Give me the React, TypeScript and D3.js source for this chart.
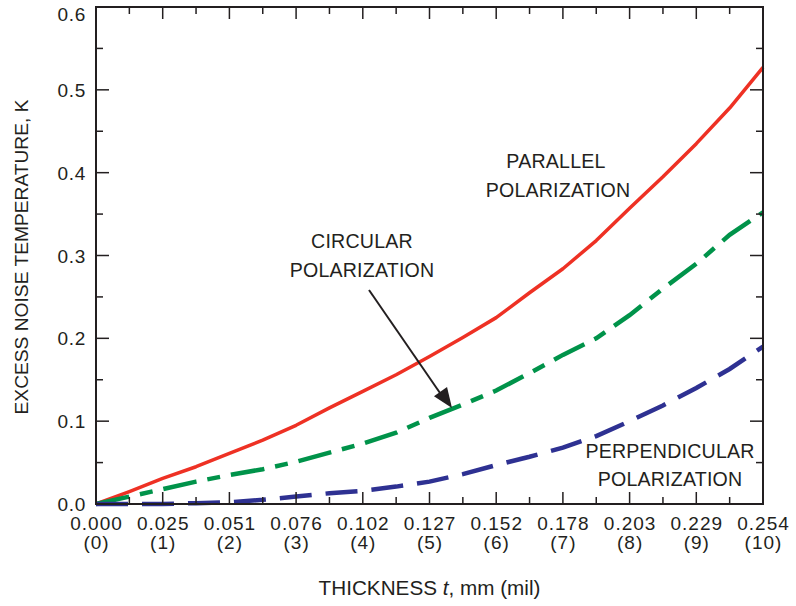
import React from "react";
import * as d3 from "d3";

const thicknessMil = [0, 0.5, 1, 1.5, 2, 2.5, 3, 3.5, 4, 4.5, 5, 5.5, 6, 6.5, 7, 7.5, 8, 8.5, 9, 9.5, 10];
const parallel = [0, 0.015, 0.031, 0.045, 0.061, 0.077, 0.095, 0.116, 0.136, 0.156, 0.178, 0.201, 0.225, 0.255, 0.284, 0.318, 0.357, 0.395, 0.435, 0.478, 0.527];
const circular = [0, 0.009, 0.018, 0.027, 0.035, 0.042, 0.051, 0.062, 0.073, 0.086, 0.104, 0.12, 0.137, 0.158, 0.18, 0.2, 0.228, 0.26, 0.29, 0.325, 0.352];
const perpendicular = [0, 0, 0, 0.001, 0.002, 0.005, 0.009, 0.013, 0.016, 0.021, 0.027, 0.036, 0.047, 0.057, 0.068, 0.082, 0.1, 0.119, 0.14, 0.163, 0.19];

const xTickMil = [0, 1, 2, 3, 4, 5, 6, 7, 8, 9, 10];
const xTickMm = ["0.000", "0.025", "0.051", "0.076", "0.102", "0.127", "0.152", "0.178", "0.203", "0.229", "0.254"];
const yTicks = [0, 0.1, 0.2, 0.3, 0.4, 0.5, 0.6];

const FONT = "'Liberation Sans', Arial, Helvetica, sans-serif";
const TEXT = "#231f20";

export default function App() {
  const W = 796, H = 606;
  const left = 96, right = 763, top = 7, bottom = 504;
  const x = d3.scaleLinear().domain([0, 10]).range([left, right]);
  const y = d3.scaleLinear().domain([0, 0.6]).range([bottom, top]);

  const mk = (vals: number[]) =>
    d3.line<number>().x((_, i) => x(thicknessMil[i])).y((v) => y(v))(vals) || "";

  const minorX = d3.range(0.5, 10, 1);
  const minorY = d3.range(0.05, 0.6, 0.1);

  const fs = 19;

  return (
    <svg width={W} height={H} style={{ position: "absolute", left: 0, top: 0 }} fontFamily={FONT}>
      <rect x={0} y={0} width={W} height={H} fill="#fff" />
      {/* series */}
      <path d={mk(parallel)} fill="none" stroke="#ee3124" strokeWidth={3.5} strokeLinejoin="round" />
      <path d={mk(circular)} fill="none" stroke="#00934a" strokeWidth={4.5} strokeDasharray="34,11,13,11" />
      <path d={mk(perpendicular)} fill="none" stroke="#2e3192" strokeWidth={4.5} strokeDasharray="32,14" />

      {/* frame */}
      <rect x={left} y={top} width={right - left} height={bottom - top} fill="none" stroke={TEXT} strokeWidth={2} />

      {/* x ticks */}
      {xTickMil.map((m) => (
        <g key={"xt" + m}>
          <line x1={x(m)} x2={x(m)} y1={bottom} y2={bottom - 12} stroke={TEXT} strokeWidth={1.5} />
          <line x1={x(m)} x2={x(m)} y1={top} y2={top + 12} stroke={TEXT} strokeWidth={1.5} />
        </g>
      ))}
      {minorX.map((m) => (
        <g key={"xm" + m}>
          <line x1={x(m)} x2={x(m)} y1={bottom} y2={bottom - 7} stroke={TEXT} strokeWidth={1.5} />
          <line x1={x(m)} x2={x(m)} y1={top} y2={top + 7} stroke={TEXT} strokeWidth={1.5} />
        </g>
      ))}
      {/* y ticks */}
      {yTicks.map((v) => (
        <g key={"yt" + v}>
          <line x1={left} x2={left + 13} y1={y(v)} y2={y(v)} stroke={TEXT} strokeWidth={1.5} />
          <line x1={right} x2={right - 13} y1={y(v)} y2={y(v)} stroke={TEXT} strokeWidth={1.5} />
        </g>
      ))}
      {minorY.map((v) => (
        <g key={"ym" + v}>
          <line x1={left} x2={left + 7} y1={y(v)} y2={y(v)} stroke={TEXT} strokeWidth={1.5} />
          <line x1={right} x2={right - 7} y1={y(v)} y2={y(v)} stroke={TEXT} strokeWidth={1.5} />
        </g>
      ))}

      {/* tick labels */}
      {xTickMil.map((m, i) => (
        <g key={"xl" + m} fill={TEXT} fontSize={fs} textAnchor="middle" letterSpacing={1}>
          <text x={x(m) + 0.5} y={530}>{xTickMm[i]}</text>
          <text x={x(m) + 0.5} y={549}>({m})</text>
        </g>
      ))}
      {yTicks.map((v) => (
        <text key={"yl" + v} x={86} y={Math.max(y(v), 14) + 7} fontSize={fs} fill={TEXT} textAnchor="end" letterSpacing={0.7}>
          {v.toFixed(1)}
        </text>
      ))}

      {/* axis titles */}
      <text x={(left + right) / 2} y={595} fontSize={20.7} fill={TEXT} textAnchor="middle">
        THICKNESS <tspan fontStyle="italic">t</tspan>, mm (mil)
      </text>
      <text transform={`translate(27.5,257) rotate(-90)`} fontSize={19.2} fill={TEXT} textAnchor="middle">
        EXCESS NOISE TEMPERATURE, K
      </text>

      {/* annotations */}
      <g fontSize={19.6} fill={TEXT} textAnchor="middle" letterSpacing={0.2}>
        <text x={556} y={168}>PARALLEL</text>
        <text x={558} y={197}>POLARIZATION</text>
        <text x={362} y={248}>CIRCULAR</text>
        <text x={362} y={277}>POLARIZATION</text>
        <text x={670} y={458}>PERPENDICULAR</text>
        <text x={670} y={486}>POLARIZATION</text>
      </g>
      <line x1={369} y1={290} x2={440} y2={393} stroke={TEXT} strokeWidth={2} />
      <path
        d={(() => {
          const tx = 452, ty = 408, bx = 369, by = 290;
          const a = Math.atan2(ty - by, tx - bx);
          const L = 20, Wd = 8;
          const cx = tx - L * Math.cos(a), cy = ty - L * Math.sin(a);
          const px = -Math.sin(a) * Wd, py = Math.cos(a) * Wd;
          return `M${tx},${ty} L${cx + px},${cy + py} L${cx - px},${cy - py} Z`;
        })()}
        fill={TEXT}
      />
    </svg>
  );
}
